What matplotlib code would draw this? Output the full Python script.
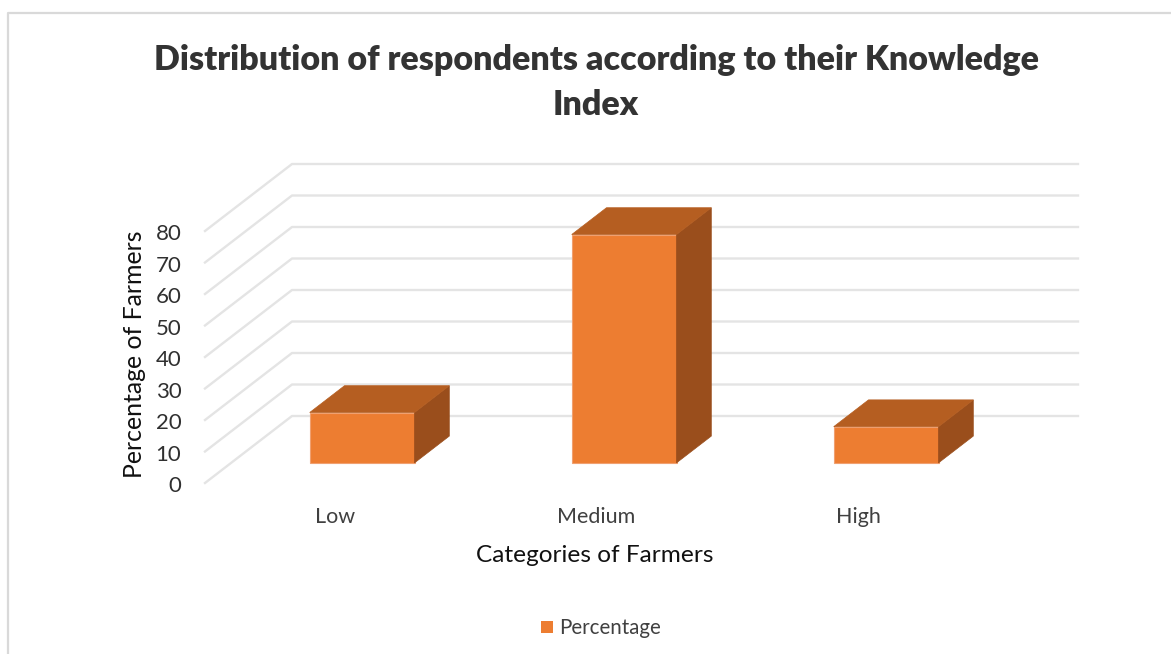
import matplotlib
matplotlib.use("Agg")
import matplotlib.pyplot as plt
from matplotlib.patches import Polygon, Rectangle
from matplotlib.transforms import IdentityTransform, ScaledTranslation

categories = ["Low", "Medium", "High"]
percentages = [16, 72.5, 11.5]
y_ticks = [0, 10, 20, 30, 40, 50, 60, 70, 80]
title = "Distribution of respondents according to their Knowledge\nIndex"

W, H = 1171, 654
plt.rcParams['font.family'] = ['Lato', 'DejaVu Sans']
fig = plt.figure(figsize=(W / 100, H / 100), dpi=100, facecolor='white')

# front plane of the pseudo-3D box
L, R, B, T = 205, 991, 483, 231
ax = fig.add_axes([L / W, 1 - B / H, (R - L) / W, (B - T) / H])
ax.set_xlim(-0.5, 2.5)
ax.set_ylim(0, 80)
ax.patch.set_visible(False)
for s in ax.spines.values():
    s.set_visible(False)
ax.set_xticks(range(3), categories, fontsize=15.5, color='#404040')
ax.set_yticks(y_ticks, [str(v) for v in y_ticks], fontsize=16, color='#303030', va='center_baseline')
ax.tick_params(length=0, pad=17)
ax.tick_params(axis='x', pad=17)
ax.set_ylabel("Percentage of Farmers", fontsize=17.9, color='#111111', labelpad=6.5, y=0.51)
ax.set_xlabel("Categories of Farmers", fontsize=17.6, color='#111111', labelpad=13.5, x=0.496)
shift_x = ScaledTranslation(-1 / 72, 0, fig.dpi_scale_trans)
shift_y = ScaledTranslation(0, -1 / 72, fig.dpi_scale_trans)
for lab in ax.get_xticklabels():
    lab.set_transform(lab.get_transform() + shift_x)
for lab in ax.get_yticklabels():
    lab.set_transform(lab.get_transform() + shift_y)

DX, DY = 87, 67   # full depth in pixels
BAR_FRONT = 0.30  # depth fraction of bar front
BAR_BACK = 0.70   # depth fraction of bar back
BAR_W = 0.2


def pt(x, y, d):
    px, py = ax.transData.transform((x, y))
    return (px + DX * d, py + DY * d)


def poly(pts, **kw):
    fig.add_artist(Polygon(pts, closed=True, transform=IdentityTransform(), **kw))


GRID = '#e4e4e4'
for v in y_ticks:
    a, b, c = pt(-0.5, v, 0), pt(-0.5, v, 1), pt(2.5, v, 1)
    fig.add_artist(plt.Line2D([a[0], b[0], c[0]], [a[1], b[1], c[1]], color=GRID, lw=1.7,
                              transform=IdentityTransform(), zorder=1))

for i, v in enumerate(percentages):
    x0, x1 = i - BAR_W, i + BAR_W
    poly([pt(x0, 0, BAR_FRONT), pt(x1, 0, BAR_FRONT), pt(x1, v, BAR_FRONT), pt(x0, v, BAR_FRONT)],
         facecolor='#ed7d31', edgecolor='#f0a070', linewidth=0.8, zorder=3)
    poly([pt(x1, 0, BAR_FRONT), pt(x1, 0, BAR_BACK), pt(x1, v, BAR_BACK), pt(x1, v, BAR_FRONT)],
         facecolor='#9a4e1c', edgecolor='#9a4e1c', linewidth=0.5, zorder=3)
    poly([pt(x0, v, BAR_FRONT), pt(x1, v, BAR_FRONT), pt(x1, v, BAR_BACK), pt(x0, v, BAR_BACK)],
         facecolor='#b55e21', edgecolor='#b55e21', linewidth=0.5, zorder=3)

fig.text(596 / W, 1 - 82.5 / H, title, ha='center', va='center', fontsize=24.5, fontweight='heavy',
         color='#333333', linespacing=1.47)

# legend
fig.add_artist(Rectangle((541 / W, 1 - 633 / H), 12 / W, 12 / H, transform=fig.transFigure,
                         facecolor='#ed7d31', edgecolor='none'))
fig.text(559 / W, 1 - 628.5 / H, "Percentage", ha='left', va='center', fontsize=14.8, color='#404040')

# outer chart border (top and left only)
fig.add_artist(plt.Line2D([8 / W, 8 / W, 1], [0, 1 - 13 / H, 1 - 13 / H],
                          color='#d9d9d9', lw=1.6, transform=fig.transFigure))

fig.savefig("out.png", dpi=100, facecolor='white')
